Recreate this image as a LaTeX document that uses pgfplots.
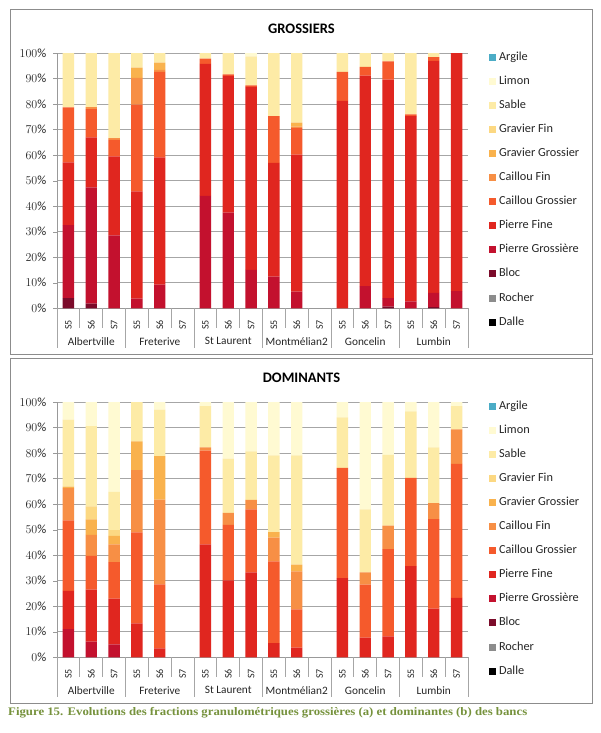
\documentclass[border=0pt]{standalone}
\usepackage{graphicx}
\usepackage{pgfplots}
\pgfplotsset{compat=1.18}
\usepackage{pgfplotstable}
\usepackage{fontspec}
\setmainfont{Carlito}
\newfontfamily\capfont{Liberation Serif}

\definecolor{cArgile}{HTML}{4BACC6}
\definecolor{cLimon}{HTML}{FFFAD2}
\definecolor{cSable}{HTML}{FDEBA6}
\definecolor{cGravFin}{HTML}{FCD882}
\definecolor{cGravGros}{HTML}{F9B24D}
\definecolor{cCailFin}{HTML}{F78F45}
\definecolor{cCailGros}{HTML}{F55A2C}
\definecolor{cPierFine}{HTML}{E0261F}
\definecolor{cPierGros}{HTML}{C3112E}
\definecolor{cBloc}{HTML}{7B0B2A}
\definecolor{cRocher}{HTML}{8C8C8C}
\definecolor{cDalle}{HTML}{000000}
\definecolor{capgreen}{HTML}{76923C}

% 0-2 Albertville, 3-5 Freterive, 6-8 St Laurent, 9-11 Montmelian2, 12-14 Goncelin, 15-17 Lumbin
\pgfplotstableread{
x  Dalle Rocher Bloc PG   PF   CG   CF   GG  GF  Sable Limon Argile
0  0 0 4.0 28.6 24.6 21.5 0    0   0   21.3 0   0
1  0 0 1.8 45.6 19.6 11.0 0.8  0   0   21.2 0   0
2  0 0 0   28.6 30.9 6.5  0.7  0   0   33.3 0   0
3  0 0 0   3.8  42.0 34.0 10.5 4.0 0   5.7  0   0
4  0 0 0   9.3  49.8 33.5 0.8  2.8 0   3.8  0   0
5  0 0 0   0    0    0    0    0   0   0    0   0
6  0 0 0   44.0 51.7 2.1  0    0   0   2.2  0   0
7  0 0 0   37.5 53.5 0.6  0    0   0   8.4  0   0
8  0 0 0   15.1 71.6 0.6  0    0   0   11.4 1.3 0
9  0 0 0   12.4 44.6 18.3 0    0   0   24.7 0   0
10 0 0 0   6.5  53.7 10.4 0.6  1.5 0   27.3 0   0
11 0 0 0   0    0    0    0    0   0   0    0   0
12 0 0 0   0    81.2 11.4 0    0   0   7.4  0   0
13 0 0 0   8.7  82.4 3.5  0    0   0   5.4  0   0
14 0 0 0.7 3.3  85.6 7.1  0    0   0   3.3  0   0
15 0 0 0   2.7  72.6 0.7  0    0   0   24.0 0   0
16 0 0 0.5 5.5  90.9 1.5  0    0   0   1.6  0   0
17 0 0 0   6.7  93.3 0    0    0   0   0    0   0
}\grossiers

\pgfplotstableread{
x  Dalle Rocher Bloc PG   PF   CG   CF   GG   GF  Sable Limon Argile
0  0 0 0 11.0 15.0 27.6 12.7 0.6  0   26.2 6.9  0
1  0 0 0 6.1  20.4 13.2 8.3  6.0  5.1 31.5 9.4  0
2  0 0 0 5.1  17.9 14.3 6.9  3.4  2.2 15.0 35.2 0
3  0 0 0 0    13.3 35.6 24.4 11.3 0   15.4 0    0
4  0 0 0 0    3.5  25.1 33.2 17.0 0   18.2 3.0  0
5  0 0 0 0    0    0    0    0    0   0    0    0
6  0 0 0 0    44.2 36.8 1.2  0    0   16.2 1.6  0
7  0 0 0 0    30.1 21.8 4.7  0    0   21.2 22.2 0
8  0 0 0 0    33.3 24.6 3.8  0    0   19.0 19.3 0
9  0 0 0 0    5.6  32.0 9.3  2.1  0   30.1 20.9 0
10 0 0 0 0    3.8  15.0 14.9 2.6  0   42.8 20.9 0
11 0 0 0 0    0    0    0    0    0   0    0    0
12 0 0 0 0    31.0 43.2 0    0    0   19.8 6.0  0
13 0 0 0 0    7.7  20.8 4.8  0    0   24.6 42.1 0
14 0 0 0 0    8.2  34.2 9.2  0    0   27.7 20.7 0
15 0 0 0 0    35.7 34.6 0    0    0   26.0 3.7  0
16 0 0 0 0    19.1 35.0 6.3  0    0   21.8 17.8 0
17 0 0 0 0    23.3 52.5 13.5 0    0   9.1  1.6  0
}\dominants

\pgfplotsset{
  granulo/.style={
    ybar stacked, bar width=11.4pt,
    every axis plot post/.append style={draw=none,
      legend image code/.code={\fill[##1] (0pt,-3.5pt) rectangle (7pt,3.5pt);}},
    width=411pt, height=255.3pt, scale only axis, clip=false,
    xmin=-0.5, xmax=17.5, ymin=0, ymax=100,
    axis x line*=bottom, axis y line*=left,
    axis line style={draw=black!40, -},
    ytick={0,10,...,100},
    yticklabel={\pgfmathprintnumber{\tick}\%},
    yticklabel style={font=\fontsize{12.5}{14}\selectfont, text=black!85, anchor=east, inner sep=0pt, xshift=-6.5pt},
    ymajorgrids, grid style={draw=black!35, line width=0.8pt},
    tick align=outside, major tick length=4pt,
    ytick style={draw=black!40},
    xtick={0,...,17},
    xticklabels={S5,S6,S7,S5,S6,S7,S5,S6,S7,S5,S6,S7,S5,S6,S7,S5,S6,S7},
    xticklabel style={yshift=-7.5pt, rotate=90, anchor=east, inner sep=0pt,
      font=\fontsize{10}{12}\selectfont, text=black!85},
    xtick style={draw=none},
    reverse legend,
    legend cell align=left,
    legend style={at={(axis description cs:1.0511,1.0313)}, anchor=north west,
      draw=none, fill=none, inner sep=0pt, outer sep=0pt, row sep=0pt, column sep=3pt,
      font=\fontsize{12.3}{14}\selectfont,
      nodes={inner sep=0pt, text height=15pt, text depth=9.1pt, text=black!85}},
  },
}
\tikzset{grp/.style={font=\fontsize{11.3}{13}\selectfont, text=black!85, yshift=-33pt}}

\begin{document}
\begin{tikzpicture}
\path[fill=white] (0pt,0pt) rectangle (600pt,-733pt);
\draw[black!45, line width=0.8pt] (10pt,-9pt) rectangle (592pt,-354pt);
\draw[black!45, line width=0.8pt] (10pt,-358pt) rectangle (592pt,-703pt);
\node[font=\bfseries\fontsize{14.5}{17}\selectfont] at (301.5pt,-29pt) {GROSSIERS};
\node[font=\bfseries\fontsize{14.5}{17}\selectfont] at (301.5pt,-377.7pt) {DOMINANTS};

% (a) fractions grossieres
\begin{axis}[granulo, at={(57pt,-308.3pt)}, anchor=south west]
\addplot[fill=cDalle] table[x=x,y=Dalle]{\grossiers};
\addplot[fill=cRocher] table[x=x,y=Rocher]{\grossiers};
\addplot[fill=cBloc] table[x=x,y=Bloc]{\grossiers};
\addplot[fill=cPierGros] table[x=x,y=PG]{\grossiers};
\addplot[fill=cPierFine] table[x=x,y=PF]{\grossiers};
\addplot[fill=cCailGros] table[x=x,y=CG]{\grossiers};
\addplot[fill=cCailFin] table[x=x,y=CF]{\grossiers};
\addplot[fill=cGravGros] table[x=x,y=GG]{\grossiers};
\addplot[fill=cGravFin] table[x=x,y=GF]{\grossiers};
\addplot[fill=cSable] table[x=x,y=Sable]{\grossiers};
\addplot[fill=cLimon] table[x=x,y=Limon]{\grossiers};
\addplot[fill=cArgile] table[x=x,y=Argile]{\grossiers};
\legend{Dalle,Rocher,Bloc,Pierre Grossière,Pierre Fine,Caillou Grossier,Caillou Fin,Gravier Grossier,Gravier Fin,Sable,Limon,Argile}
\pgfplotsinvokeforeach{0.5,1.5,3.5,4.5,6.5,7.5,9.5,10.5,12.5,13.5,15.5,16.5}{
  \draw[black!35, line width=0.8pt] (axis cs:#1,0) -- ++(0pt,-19.5pt);}
\pgfplotsinvokeforeach{-0.5,2.5,5.5,8.5,11.5,14.5,17.5}{
  \draw[black!35, line width=0.8pt] (axis cs:#1,0) -- ++(0pt,-40pt);}
\node[grp] at (axis cs:1,0) {Albertville};
\node[grp] at (axis cs:4,0) {Freterive};
\node[grp] at (axis cs:7,0) {St Laurent};
\node[grp] at (axis cs:10,0) {Montmélian2};
\node[grp] at (axis cs:13,0) {Goncelin};
\node[grp] at (axis cs:16,0) {Lumbin};
\end{axis}

% (b) fractions dominantes
\begin{axis}[granulo, at={(57pt,-657.3pt)}, anchor=south west]
\addplot[fill=cDalle] table[x=x,y=Dalle]{\dominants};
\addplot[fill=cRocher] table[x=x,y=Rocher]{\dominants};
\addplot[fill=cBloc] table[x=x,y=Bloc]{\dominants};
\addplot[fill=cPierGros] table[x=x,y=PG]{\dominants};
\addplot[fill=cPierFine] table[x=x,y=PF]{\dominants};
\addplot[fill=cCailGros] table[x=x,y=CG]{\dominants};
\addplot[fill=cCailFin] table[x=x,y=CF]{\dominants};
\addplot[fill=cGravGros] table[x=x,y=GG]{\dominants};
\addplot[fill=cGravFin] table[x=x,y=GF]{\dominants};
\addplot[fill=cSable] table[x=x,y=Sable]{\dominants};
\addplot[fill=cLimon] table[x=x,y=Limon]{\dominants};
\addplot[fill=cArgile] table[x=x,y=Argile]{\dominants};
\legend{Dalle,Rocher,Bloc,Pierre Grossière,Pierre Fine,Caillou Grossier,Caillou Fin,Gravier Grossier,Gravier Fin,Sable,Limon,Argile}
\pgfplotsinvokeforeach{0.5,1.5,3.5,4.5,6.5,7.5,9.5,10.5,12.5,13.5,15.5,16.5}{
  \draw[black!35, line width=0.8pt] (axis cs:#1,0) -- ++(0pt,-19.5pt);}
\pgfplotsinvokeforeach{-0.5,2.5,5.5,8.5,11.5,14.5,17.5}{
  \draw[black!35, line width=0.8pt] (axis cs:#1,0) -- ++(0pt,-40pt);}
\node[grp] at (axis cs:1,0) {Albertville};
\node[grp] at (axis cs:4,0) {Freterive};
\node[grp] at (axis cs:7,0) {St Laurent};
\node[grp] at (axis cs:10,0) {Montmélian2};
\node[grp] at (axis cs:13,0) {Goncelin};
\node[grp] at (axis cs:16,0) {Lumbin};
\end{axis}

\node[anchor=west, text=capgreen, font=\capfont\bfseries\fontsize{11.5}{13}\selectfont, inner sep=0pt]
  at (8pt,-712.5pt) {\resizebox{519pt}{\height}{Figure 15. Evolutions des fractions granulométriques grossières (a) et dominantes (b) des bancs}};
\end{tikzpicture}
\end{document}
